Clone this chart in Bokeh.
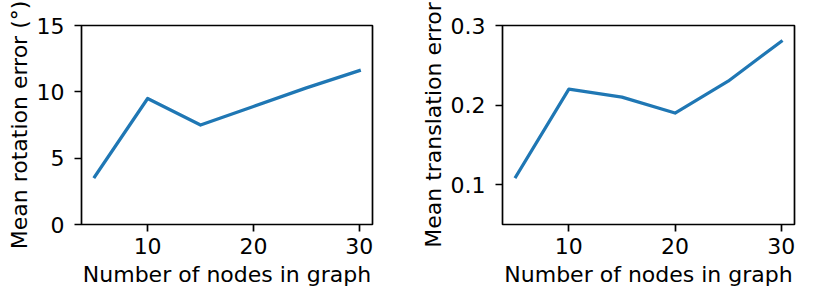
from bokeh.plotting import figure
from bokeh.layouts import row
from bokeh.models import Range1d, FixedTicker
from bokeh.embed import file_html
from bokeh.resources import INLINE

nodes = [5, 10, 15, 20, 25, 30]
rotation_err = [3.6, 9.5, 7.5, 8.9, 10.3, 11.6]
translation_err = [0.11, 0.22, 0.21, 0.19, 0.23, 0.28]

x_ticks = [10, 20, 30]
rot_ticks = [0, 5, 10, 15]
trans_ticks = [0.1, 0.2, 0.3]

FONT = "DejaVu Sans"
FS = "22px"
BLUE = "#1f77b4"


def make(width, left, right, yr, yticks, ylabel):
    p = figure(width=width, height=291, output_backend="svg", toolbar_location=None,
               x_range=Range1d(3.75, 31.25), y_range=yr,
               min_border_left=left, min_border_right=right,
               min_border_top=25, min_border_bottom=67)
    p.grid.visible = False
    p.background_fill_color = "white"
    p.border_fill_color = "white"
    p.outline_line_color = "black"
    p.outline_line_width = 1.7
    p.outline_line_alpha = 1.0
    p.xaxis.ticker = FixedTicker(ticks=x_ticks)
    p.yaxis.ticker = FixedTicker(ticks=yticks)
    p.xaxis.axis_label = "Number of nodes in graph"
    p.yaxis.axis_label = ylabel
    for ax in (p.xaxis, p.yaxis):
        ax.axis_line_color = None
        ax.major_tick_out = 7
        ax.major_tick_in = 0
        ax.minor_tick_line_color = None
        ax.major_tick_line_color = "black"
        ax.major_tick_line_width = 1.7
        ax.major_label_text_font = FONT
        ax.major_label_text_font_size = FS
        ax.major_label_text_color = "black"
        ax.axis_label_text_font = FONT
        ax.axis_label_text_font_size = FS
        ax.axis_label_text_font_style = "normal"
        ax.axis_label_text_color = "black"
    p.xaxis.major_label_standoff = 6
    p.xaxis.axis_label_standoff = 5
    p.yaxis.major_label_standoff = 10
    p.yaxis.axis_label_standoff = 2
    return p


p1 = make(407, 81, 35, Range1d(0, 15), rot_ticks, "Mean rotation error (°)")
p1.line(nodes, rotation_err, line_color=BLUE, line_width=3.25,
        line_join="round", line_cap="square")

p2 = make(407, 95, 20, Range1d(0.05, 0.3), trans_ticks, "Mean translation error")
p2.line(nodes, translation_err, line_color=BLUE, line_width=3.25,
        line_join="round", line_cap="square")

layout = row(p1, p2)
open("out.html", "w").write(file_html(layout, INLINE))
